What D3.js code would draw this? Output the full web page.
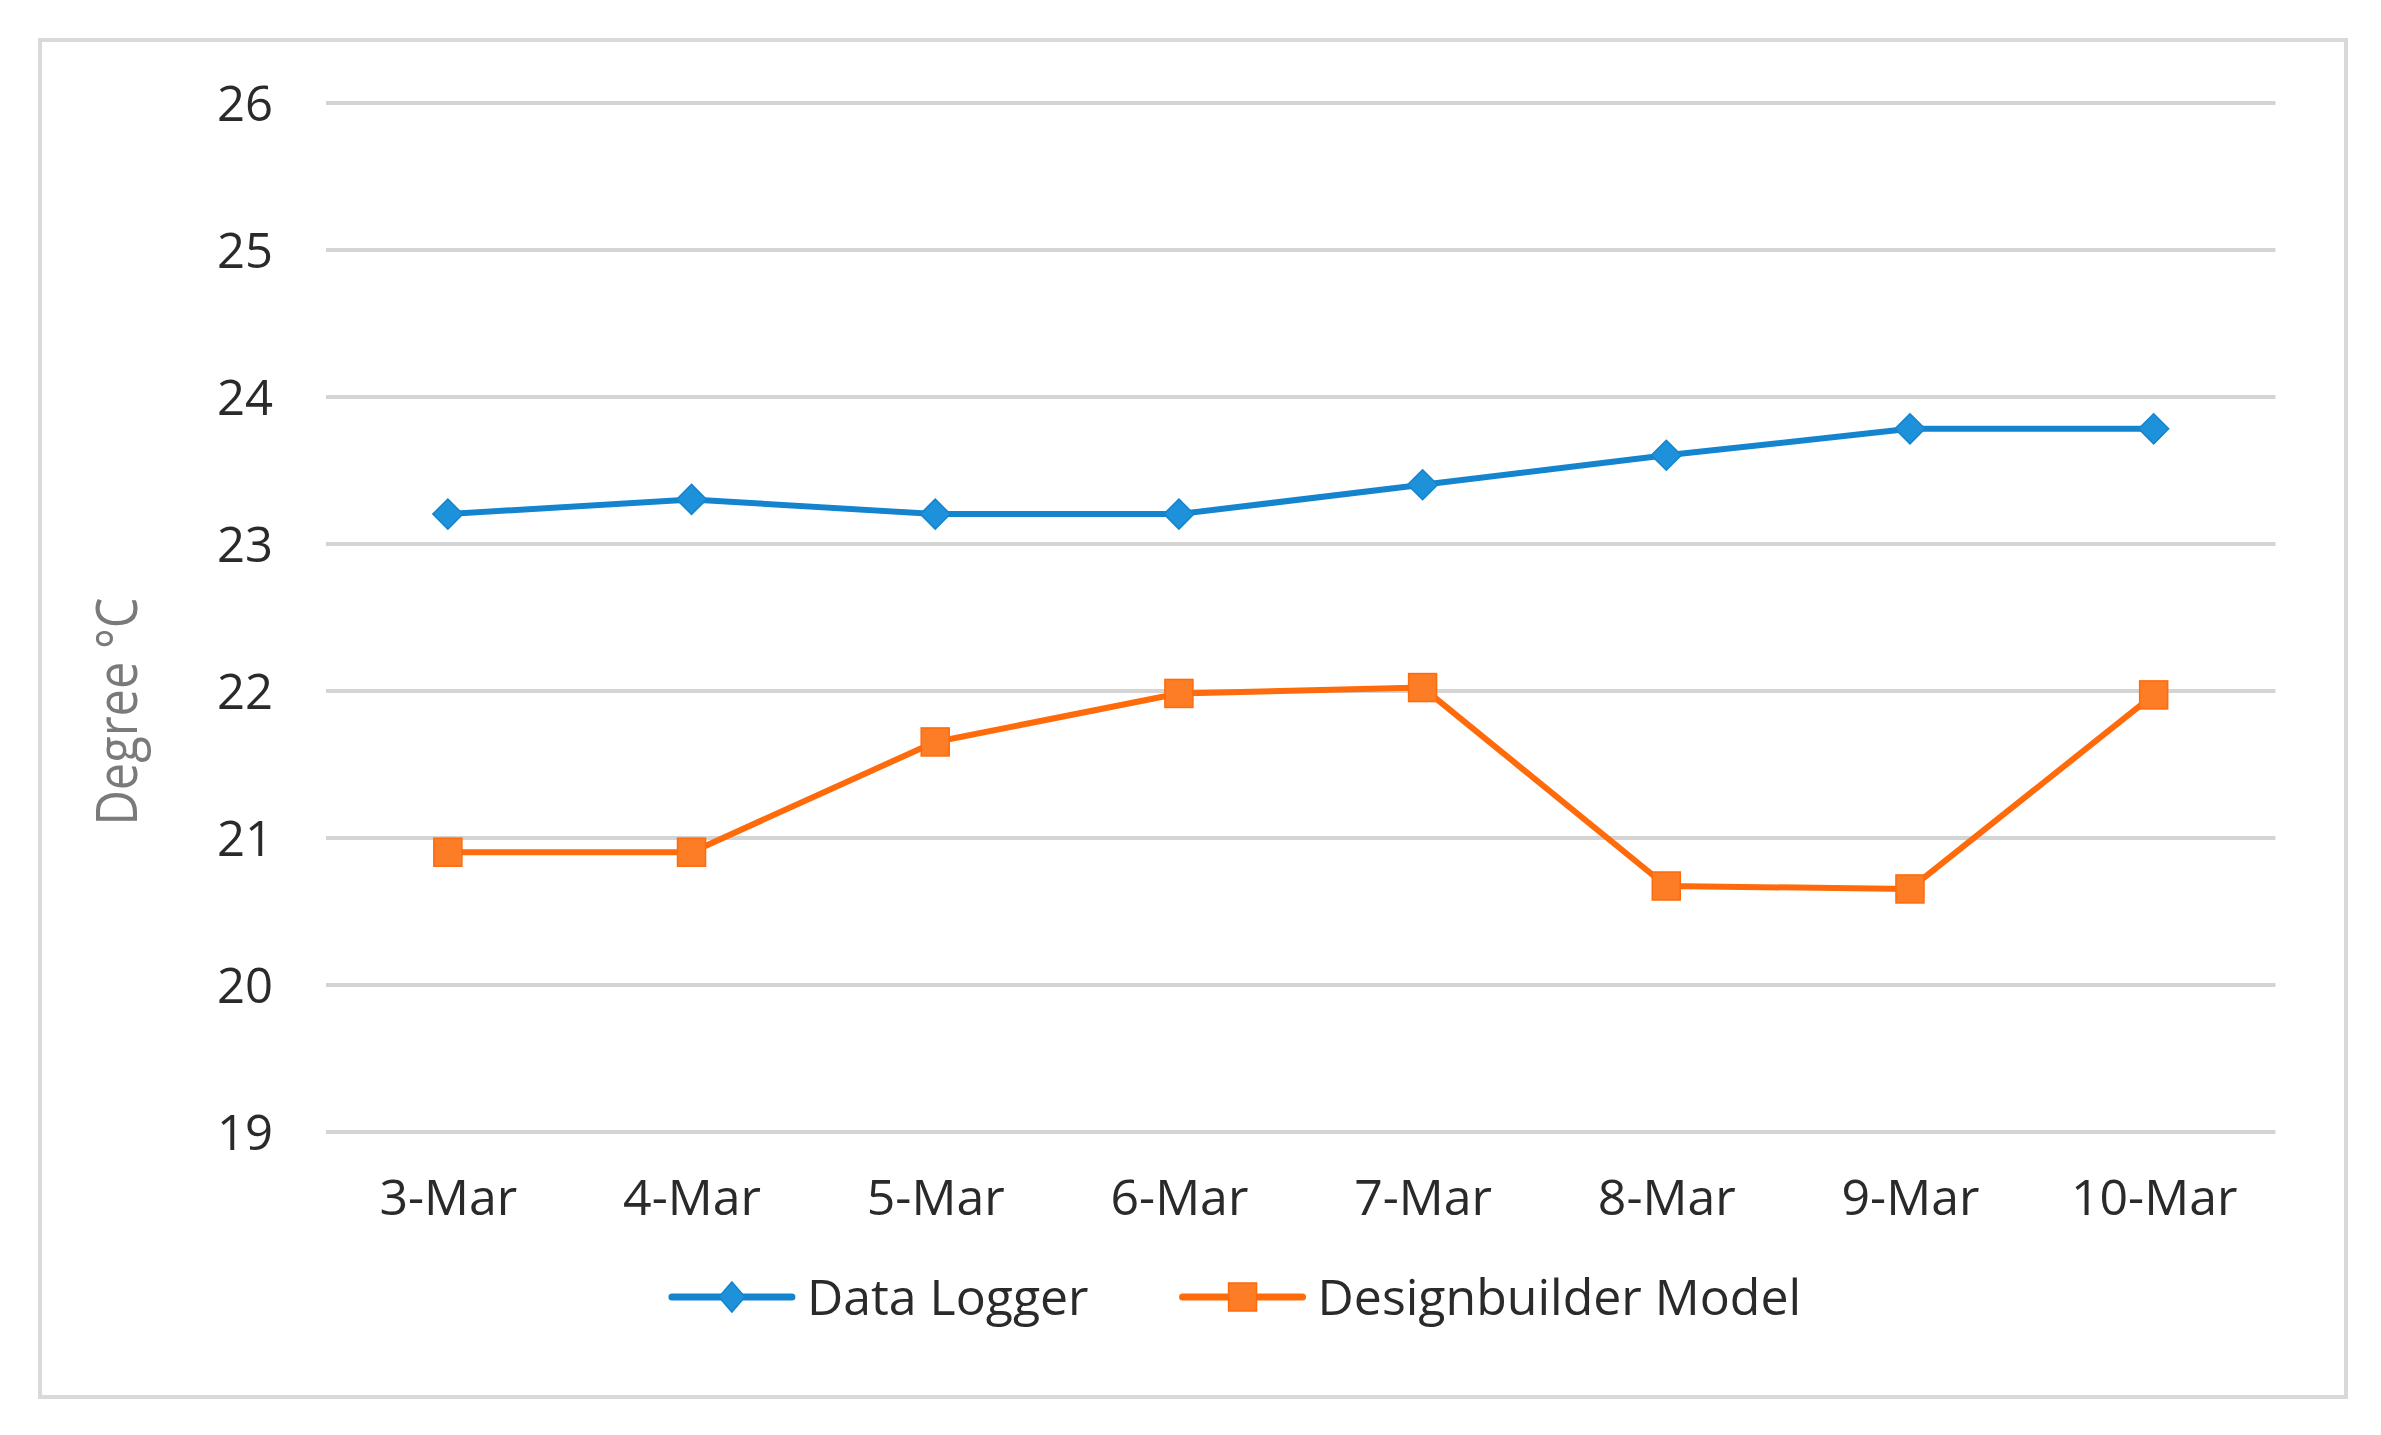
<!DOCTYPE html>
<html>
<head>
<meta charset="utf-8">
<script src="https://cdn.jsdelivr.net/npm/d3@7"></script>
<style>
  html, body { margin: 0; padding: 0; background: #ffffff; }
  svg { display: block; }
  text { font-family: "Open Sans", "Noto Sans", sans-serif; }
</style>
</head>
<body>
<svg id="chart" width="2381" height="1435"></svg>
<script>
// ---- data ----
const categories = ["3-Mar", "4-Mar", "5-Mar", "6-Mar", "7-Mar", "8-Mar", "9-Mar", "10-Mar"];
const dataLogger = [23.2, 23.3, 23.2, 23.2, 23.4, 23.6, 23.78, 23.78];
const designbuilderModel = [20.9, 20.9, 21.65, 21.98, 22.02, 20.67, 20.65, 21.97];
const seriesNames = ["Data Logger", "Designbuilder Model"];
const yTicks = [19, 20, 21, 22, 23, 24, 25, 26];
const yDomain = [19, 26];
const yTitle = "Degree °C";

// ---- layout ----
const W = 2381, H = 1435;
const plot = { left: 326, right: 2275.5, top: 102.5, bottom: 1131.5 };
const blue = "#1484cf", blueFill = "#1d91d9";
const orange = "#ff6a0a", orangeFill = "#fd7d26";
const textColor = "#2a2a2a";
const fs = 48, fsX = 50, fsLeg = 50;

const svg = d3.select("#chart");

svg.append("rect").attr("x", 0).attr("y", 0).attr("width", W).attr("height", H).attr("fill", "#fff");
svg.append("rect")
  .attr("x", 40).attr("y", 40).attr("width", 2306).attr("height", 1357)
  .attr("fill", "#fff").attr("stroke", "#d9d9d9").attr("stroke-width", 4);

const x = d3.scalePoint().domain(categories).range([plot.left, plot.right]).padding(0.5);
const y = d3.scaleLinear().domain(yDomain).range([plot.bottom, plot.top]);

// y axis with gridlines
const yAxis = svg.append("g")
  .attr("transform", `translate(${plot.left},0)`)
  .call(d3.axisLeft(y).tickValues(yTicks).tickFormat(d3.format("d"))
    .tickSize(-(plot.right - plot.left)).tickPadding(53));
yAxis.select(".domain").remove();
yAxis.selectAll(".tick line").attr("stroke", "#d4d4d4").attr("stroke-width", 4);
yAxis.selectAll(".tick text")
  .attr("fill", textColor).attr("font-size", fs + 1).attr("dy", "0.36em");

// x axis
const xAxis = svg.append("g")
  .attr("transform", `translate(0,${plot.bottom})`)
  .call(d3.axisBottom(x).tickSize(0).tickPadding(48));
xAxis.select(".domain").remove();
xAxis.selectAll(".tick text").attr("fill", textColor).attr("font-size", fsX);

// y title
svg.append("text")
  .attr("transform", "translate(137,711.5) rotate(-90)")
  .attr("text-anchor", "middle")
  .attr("font-size", 56)
  .attr("fill", "#7a7a7a")
  .attr("textLength", 228)
  .attr("lengthAdjust", "spacingAndGlyphs")
  .text(yTitle);

// series
const line = d3.line().x((d, i) => x(categories[i])).y(d => y(d));

svg.append("path").datum(dataLogger)
  .attr("d", line).attr("fill", "none").attr("stroke", blue)
  .attr("stroke-width", 6).attr("stroke-linejoin", "round");
svg.append("path").datum(designbuilderModel)
  .attr("d", line).attr("fill", "none").attr("stroke", orange)
  .attr("stroke-width", 6).attr("stroke-linejoin", "round");

const diamond = (cx, cy, rx, ry) => `M${cx},${cy - ry}L${cx + rx},${cy}L${cx},${cy + ry}L${cx - rx},${cy}Z`;

svg.append("g").selectAll("path").data(dataLogger).join("path")
  .attr("d", (d, i) => diamond(x(categories[i]), y(d), 15, 15))
  .attr("fill", blueFill).attr("stroke", blue).attr("stroke-width", 1.5);

svg.append("g").selectAll("rect").data(designbuilderModel).join("rect")
  .attr("x", (d, i) => x(categories[i]) - 14)
  .attr("y", d => y(d) - 14)
  .attr("width", 28).attr("height", 28)
  .attr("fill", orangeFill).attr("stroke", orange).attr("stroke-width", 1.5);

// legend
const legendY = 1297, legendBase = 1315;
const legendCenter = 1235;
const lineLen = 126, textGap = 12, itemGap = 91;
const lg = svg.append("g");
const items = seriesNames.map((name, i) => {
  const g = lg.append("g");
  const t = g.append("text").attr("font-size", fsLeg).attr("fill", textColor).text(name);
  return { g, t, w: t.node().getComputedTextLength(), i };
});
const total = items.reduce((s, it) => s + lineLen + textGap + it.w, 0) + itemGap * (items.length - 1);
let cx = legendCenter - total / 2;
items.forEach(it => {
  const col = it.i === 0 ? blue : orange;
  it.g.insert("line", "text")
    .attr("x1", cx + 3).attr("x2", cx + lineLen - 3)
    .attr("y1", legendY).attr("y2", legendY)
    .attr("stroke", col).attr("stroke-width", 7).attr("stroke-linecap", "round");
  const mx = cx + lineLen / 2;
  if (it.i === 0) {
    it.g.insert("path", "text").attr("d", diamond(mx, legendY, 13, 15))
      .attr("fill", blueFill).attr("stroke", blue).attr("stroke-width", 1.5);
  } else {
    it.g.insert("rect", "text").attr("x", mx - 14).attr("y", legendY - 14)
      .attr("width", 28).attr("height", 28)
      .attr("fill", orangeFill).attr("stroke", orange).attr("stroke-width", 1.5);
  }
  it.t.attr("x", cx + lineLen + textGap).attr("y", legendBase);
  cx += lineLen + textGap + it.w + itemGap;
});
</script>
</body>
</html>
